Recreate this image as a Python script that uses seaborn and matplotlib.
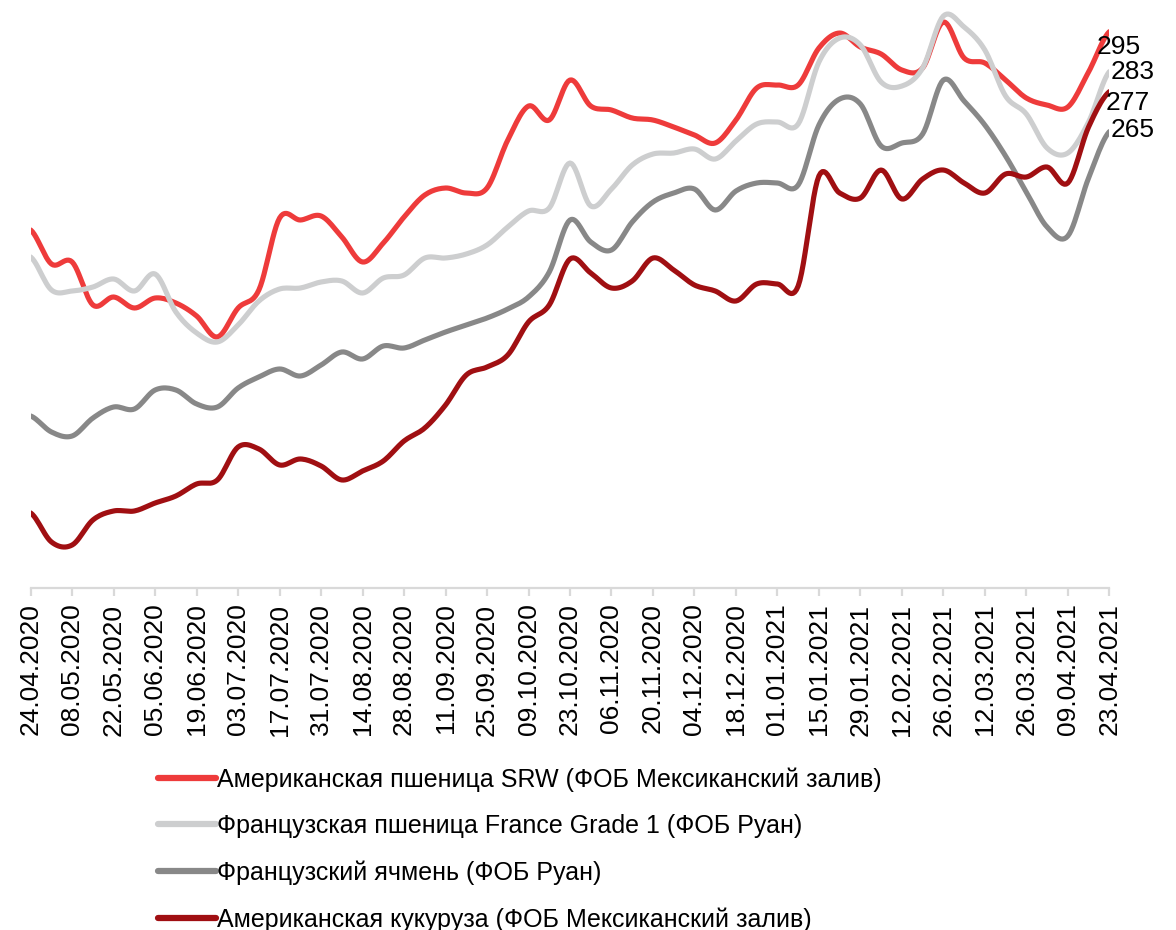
import matplotlib
matplotlib.use('Agg')
import matplotlib.pyplot as plt
import numpy as np
import pandas as pd
import seaborn as sns

sns.set_theme(style='white')
plt.rcParams['font.family'] = ['Liberation Sans', 'DejaVu Sans']

# weekly quotes, USD/t, 24.04.2020 .. 23.04.2021
dates = pd.date_range('2020-04-24', periods=53, freq='7D')
tick_labels = [d.strftime('%d.%m.%Y') for d in dates[::2]]

srw_wheat = [235.5, 225.3, 225.9, 213.0, 215.4, 212.1, 215.1, 213.6, 209.7, 203.4,
             212.1, 217.5, 239.1, 238.5, 239.7, 233.4, 225.9, 231.6, 239.4, 246.0,
             248.1, 246.6, 248.1, 262.5, 272.7, 268.5, 280.5, 272.7, 271.5, 269.1,
             268.5, 266.4, 264.0, 261.6, 268.5, 278.1, 279.0, 279.0, 290.1, 294.6,
             290.4, 288.3, 283.5, 284.1, 297.9, 287.1, 285.6, 280.5, 275.1, 273.0,
             272.4, 282.9, 295.0]
france_wheat = [227.4, 217.5, 217.2, 218.4, 220.8, 217.2, 222.3, 210.9, 204.6, 201.9,
                207.0, 214.2, 217.8, 218.1, 219.9, 220.2, 216.6, 221.1, 222.0, 227.1,
                227.1, 228.3, 231.0, 236.4, 241.2, 242.1, 255.6, 242.7, 247.8, 255.0,
                258.3, 258.6, 259.8, 256.8, 262.2, 267.3, 267.9, 267.3, 285.9, 293.1,
                291.0, 279.9, 278.7, 284.1, 299.7, 296.4, 289.5, 275.7, 270.3, 260.1,
                258.6, 267.9, 283.0]
france_barley = [179.7, 174.9, 173.7, 179.1, 182.4, 181.8, 187.5, 187.5, 183.3, 182.4,
                 188.1, 191.4, 193.8, 191.7, 195.0, 198.9, 196.8, 200.7, 200.1, 202.5,
                 204.9, 207.0, 209.1, 211.8, 215.4, 222.9, 238.5, 231.9, 229.5, 237.9,
                 243.9, 246.6, 247.8, 241.5, 247.2, 249.6, 249.6, 249.0, 267.0, 274.8,
                 273.3, 260.7, 261.6, 264.3, 280.5, 274.2, 267.0, 257.7, 246.9, 236.4,
                 233.7, 251.1, 265.0]
us_corn = [150.6, 141.9, 141.0, 148.5, 151.2, 151.2, 153.6, 155.7, 159.3, 160.5,
           170.4, 169.8, 165.0, 166.8, 164.7, 160.5, 163.2, 166.2, 172.2, 176.1,
           183.0, 192.0, 194.4, 198.0, 207.9, 213.0, 226.8, 222.6, 218.1, 220.2,
           227.1, 223.5, 219.0, 217.2, 214.2, 219.3, 219.3, 218.7, 251.7, 246.6,
           245.1, 253.5, 244.8, 250.8, 253.5, 249.6, 246.6, 252.3, 251.4, 254.4,
           249.6, 266.4, 277.0]

series_names = ['Американская пшеница SRW (ФОБ Мексиканский залив)',
                'Французская пшеница France Grade 1 (ФОБ Руан)',
                'Французский ячмень (ФОБ Руан)',
                'Американская кукуруза (ФОБ Мексиканский залив)']
series_values = [srw_wheat, france_wheat, france_barley, us_corn]
colors = ['#EE3B3B', '#CDCECF', '#888888', '#A00F12']


def smooth(y, steps=12):
    # Catmull-Rom curve through the weekly points, like Excel's smoothed line
    y = np.asarray(y, float)
    p = np.concatenate([[y[0]], y, [y[-1]]])
    t = np.linspace(0, 1, steps, endpoint=False)
    h00 = 2 * t**3 - 3 * t**2 + 1
    h10 = t**3 - 2 * t**2 + t
    h01 = -2 * t**3 + 3 * t**2
    h11 = t**3 - t**2
    xs, ys = [], []
    for i in range(len(y) - 1):
        m1 = (p[i + 2] - p[i]) / 2
        m2 = (p[i + 3] - p[i + 1]) / 2
        ys.extend(h00 * p[i + 1] + h10 * m1 + h01 * p[i + 2] + h11 * m2)
        xs.extend(i + t)
    xs.append(len(y) - 1)
    ys.append(y[-1])
    return xs, ys


frames = []
for name, vals in zip(series_names, series_values):
    xs, ys = smooth(vals)
    frames.append(pd.DataFrame({'week': xs, 'price': ys, 'series': name}))
df = pd.concat(frames, ignore_index=True)

fig = plt.figure(figsize=(11.76, 9.3), dpi=100)
ax = fig.add_axes([30.7 / 1176, (930 - 588.3) / 930, 1078.6 / 1176, 586.6 / 930])

sns.lineplot(data=df, x='week', y='price', hue='series', hue_order=series_names,
             palette=colors, linewidth=3.7, estimator=None, sort=False, ax=ax)

ax.set_xlim(0, 52)
ax.set_ylim(128, 304)
ax.set_xticks(np.arange(0, 53, 2))
ax.set_xticklabels(tick_labels, rotation=90, fontsize=19, color='black')
ax.set_yticks([])
ax.set_xlabel('')
ax.set_ylabel('')
for side in ['left', 'right', 'top']:
    ax.spines[side].set_visible(False)
ax.spines['bottom'].set_color('#D9D9D9')
ax.spines['bottom'].set_linewidth(1.6)
ax.tick_params(axis='x', bottom=True, length=6, width=1.6, color='#D9D9D9', pad=5)

# end-point labels (srw, france wheat, barley, corn)
label_offsets = [(-9, -11), (1, 0), (1, 1), (-3, -8)]
for vals, off in zip(series_values, label_offsets):
    ax.annotate(f'{vals[-1]:.0f}', xy=(52, vals[-1]), xytext=off, textcoords='offset points',
                ha='left', va='center', fontsize=19, color='black', annotation_clip=False)

sns.move_legend(ax, 'upper left', bbox_to_anchor=(158 / 1176, 1 - 767 / 930),
                bbox_transform=fig.transFigure, frameon=False, title=None, fontsize=18,
                handlelength=2.3, handletextpad=0.05, labelspacing=0.9, borderpad=0,
                borderaxespad=0)
leg = ax.get_legend()
for line in leg.get_lines():
    line.set_linewidth(4.5)
for text in leg.get_texts():
    text.set_color('black')

fig.savefig('out.png', dpi=100)
